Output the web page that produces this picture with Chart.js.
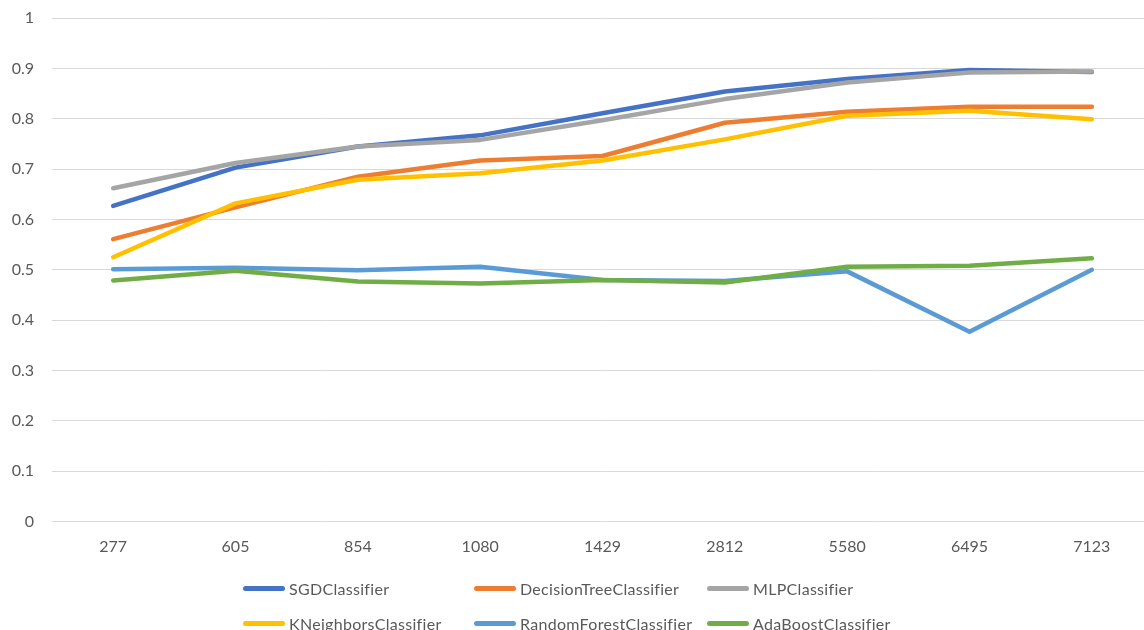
<!DOCTYPE html>
<html>
<head>
<meta charset="utf-8">
<script src="https://cdn.jsdelivr.net/npm/chart.js@4/dist/chart.umd.min.js"></script>
<style>
  html, body { margin: 0; padding: 0; background: #fff; overflow: hidden; width: 1144px; height: 630px; }
  #wrap { position: absolute; left: 0; top: 0; width: 1153px; height: 560px; }
  #legend { position: absolute; left: 0; top: 0; width: 1144px; height: 630px; pointer-events: none;
            font-family: Lato, "Open Sans", sans-serif; font-size: 16px; letter-spacing: 0.3px; color: #595959; }
  .item { position: absolute; display: flex; align-items: center; white-space: nowrap; height: 20px; }
  .swatch { width: 42px; height: 5px; border-radius: 3px; margin-right: 4px; }
</style>
</head>
<body>
<div id="wrap"><canvas id="chart"></canvas></div>
<div id="legend"></div>
<script>
// Training-set sizes along the x axis
const categories = ['277', '605', '854', '1080', '1429', '2812', '5580', '6495', '7123'];

// Accuracy of each classifier per training-set size
const sgdClassifier          = [0.627, 0.703, 0.745, 0.767, 0.811, 0.854, 0.879, 0.897, 0.893];
const decisionTreeClassifier = [0.561, 0.624, 0.685, 0.717, 0.726, 0.792, 0.814, 0.824, 0.824];
const mlpClassifier          = [0.662, 0.712, 0.745, 0.758, 0.797, 0.839, 0.872, 0.892, 0.894];
const kNeighborsClassifier   = [0.525, 0.632, 0.679, 0.692, 0.717, 0.759, 0.806, 0.816, 0.799];
const randomForestClassifier = [0.501, 0.504, 0.499, 0.506, 0.480, 0.478, 0.497, 0.377, 0.500];
const adaBoostClassifier     = [0.479, 0.498, 0.477, 0.473, 0.480, 0.475, 0.506, 0.508, 0.523];

// Y axis tick labels
const yTicks = ['0', '0.1', '0.2', '0.3', '0.4', '0.5', '0.6', '0.7', '0.8', '0.9', '1'];

const seriesNames = ['SGDClassifier', 'DecisionTreeClassifier', 'MLPClassifier',
                     'KNeighborsClassifier', 'RandomForestClassifier', 'AdaBoostClassifier'];
const seriesValues = [sgdClassifier, decisionTreeClassifier, mlpClassifier,
                      kNeighborsClassifier, randomForestClassifier, adaBoostClassifier];
const seriesColors = ['#4472C4', '#ED7D31', '#A5A5A5', '#FFC000', '#5B9BD5', '#70AD47'];

const FONT = 'Lato, "Open Sans", sans-serif';

const datasets = seriesNames.map((name, i) => ({
  label: name,
  data: seriesValues[i],
  borderColor: seriesColors[i],
  backgroundColor: seriesColors[i],
  borderWidth: 4.5,
  borderCapStyle: 'round',
  borderJoinStyle: 'round',
  pointRadius: 0,
  pointHoverRadius: 0,
  tension: 0,
  fill: false,
  // later series sit on top of earlier ones
  order: seriesNames.length - i
}));

new Chart(document.getElementById('chart'), {
  type: 'line',
  data: { labels: categories, datasets },
  options: {
    responsive: true,
    maintainAspectRatio: false,
    animation: false,
    layout: { padding: { top: 18, left: 0, right: 0, bottom: 0 } },
    plugins: { legend: { display: false }, tooltip: { enabled: false } },
    scales: {
      x: {
        offset: true,
        grid: { display: false, drawTicks: false },
        border: { display: false },
        ticks: { color: '#595959', font: { family: FONT, size: 16 }, padding: 16, maxRotation: 0 },
        afterFit: (s) => { s.height = 38.3; }
      },
      y: {
        min: 0, max: 1,
        grid: { color: '#D9D9D9', lineWidth: 1, drawTicks: false },
        border: { display: false },
        ticks: {
          stepSize: 0.1,
          color: '#595959',
          font: { family: FONT, size: 16 },
          padding: 18,
          callback: (v, idx) => yTicks[idx]
        },
        afterFit: (s) => { s.width = 52; s.paddingTop = 0; s.paddingBottom = 0; }
      }
    }
  }
});

// Legend laid out in three columns, two rows
const legend = document.getElementById('legend');
const colX = [243, 474, 707];
const rowY = [578, 613];
seriesNames.forEach((name, i) => {
  const el = document.createElement('div');
  el.className = 'item';
  el.style.left = colX[i % 3] + 'px';
  el.style.top = rowY[Math.floor(i / 3)] + 'px';
  const sw = document.createElement('span');
  sw.className = 'swatch';
  sw.style.background = seriesColors[i];
  const tx = document.createElement('span');
  tx.textContent = name;
  el.appendChild(sw);
  el.appendChild(tx);
  legend.appendChild(el);
});
</script>
</body>
</html>
